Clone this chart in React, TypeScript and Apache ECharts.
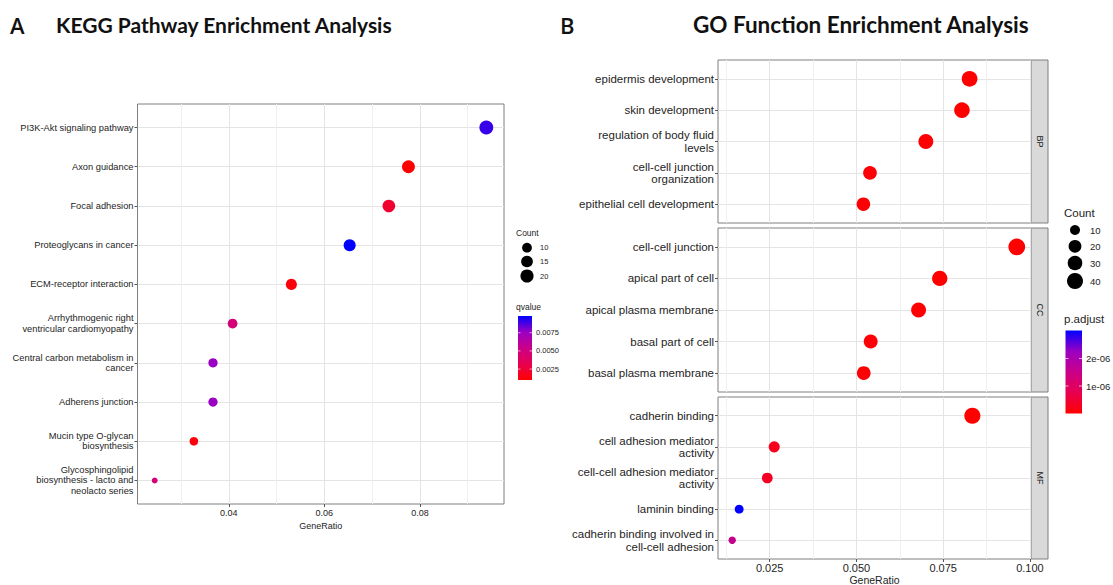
import { useEffect, useRef } from 'react';
import * as echarts from 'echarts';

// ---------- KEGG (panel A) ----------
const keggTerms = [
  'PI3K-Akt signaling pathway',
  'Axon guidance',
  'Focal adhesion',
  'Proteoglycans in cancer',
  'ECM-receptor interaction',
  'Arrhythmogenic right\nventricular cardiomyopathy',
  'Central carbon metabolism in\ncancer',
  'Adherens junction',
  'Mucin type O-glycan\nbiosynthesis',
  'Glycosphingolipid\nbiosynthesis - lacto and\nneolacto series',
];
const keggRatio = [0.0939, 0.0776, 0.0735, 0.0653, 0.0531, 0.0408, 0.0367, 0.0367, 0.0327, 0.0245];
const keggCount = [23, 19, 18, 16, 13, 10, 9, 9, 8, 6];
const keggQ = [0.009, 0.001, 0.0023, 0.0098, 0.0013, 0.0047, 0.0076, 0.0076, 0.0013, 0.0047];
const keggXTicks = [0.04, 0.06, 0.08];
const keggXMinor = [0.03, 0.05, 0.07, 0.09];
const keggCountLegend = [10, 15, 20];
const keggQTicks = [0.0025, 0.005, 0.0075];
const keggQRange = [0.001, 0.0098];

// ---------- GO (panel B) ----------
const bpTerms = [
  'epidermis development',
  'skin development',
  'regulation of body fluid\nlevels',
  'cell-cell junction\norganization',
  'epithelial cell development',
];
const bpRatio = [0.0826, 0.0804, 0.07, 0.0539, 0.052];
const bpCount = [38, 37, 32, 25, 24];
const bpPadj = [2.1e-9, 3.5e-9, 4.0e-8, 6.2e-8, 5.0e-8];

const ccTerms = [
  'cell-cell junction',
  'apical part of cell',
  'apical plasma membrane',
  'basal part of cell',
  'basal plasma membrane',
];
const ccRatio = [0.0962, 0.074, 0.0679, 0.0541, 0.0521];
const ccCount = [46, 35, 32, 26, 25];
const ccPadj = [1.2e-11, 3.0e-9, 1.5e-8, 4.5e-8, 6.0e-8];

const mfTerms = [
  'cadherin binding',
  'cell adhesion mediator\nactivity',
  'cell-cell adhesion mediator\nactivity',
  'laminin binding',
  'cadherin binding involved in\ncell-cell adhesion',
];
const mfRatio = [0.0834, 0.0263, 0.0243, 0.0162, 0.0142];
const mfCount = [41, 13, 12, 8, 7];
const mfPadj = [4.0e-9, 2.8e-7, 3.2e-7, 3.02e-6, 1.55e-6];

const goXTicks = [0.025, 0.05, 0.075, 0.1];
const goXMinor = [0.0125, 0.0375, 0.0625, 0.0875];
const goCountLegend = [10, 20, 30, 40];
const goPTicks = [1e-6, 2e-6];
const goPRange = [0, 3.02e-6];
const facetNames = ['BP', 'CC', 'MF'];

const gradientColors = ['#FF0000', '#E80050', '#CA0089', '#9A00C2', '#0000FF'];
const FONT = '"Liberation Sans", Arial, sans-serif';
const TXT = '#242424';

const kMin = Math.min(...keggCount);
const kMax = Math.max(...keggCount);
const allGoCounts = [...bpCount, ...ccCount, ...mfCount];
const gMin = Math.min(...allGoCounts);
const gMax = Math.max(...allGoCounts);
const keggSize = (c: number) => 5.9 + 8 * Math.sqrt(Math.max(0, c - kMin) / (kMax - kMin));
const goSize = (c: number) => 7.4 + 9.35 * Math.sqrt(Math.max(0, c - gMin) / (gMax - gMin));

const range = (n: number) => Array.from({ length: n }, (_, i) => i);

export default function App() {
  const ref = useRef<HTMLDivElement>(null);

  useEffect(() => {
    if (!ref.current) return;
    const chart = echarts.init(ref.current, null, { renderer: 'svg' });

    const L = { left: 137.5, top: 104, width: 366.5, height: 400 };
    const R = { left: 718, width: 313 };
    const facets = [
      { top: 60, height: 163 },
      { top: 228, height: 164 },
      { top: 397, height: 162 },
    ];
    const kXMin = 0.0209, kXMax = 0.0976;
    const gXMin = 0.0101, gXMax = 0.1003;

    const majorSplit = { show: true, lineStyle: { color: '#E4E4E4', width: 1 } };
    const minorSplit = { show: true, lineStyle: { color: '#F0F0F0', width: 1 } };
    const tickStyle = { color: '#555', width: 1 };
    const noLine = { show: false, onZero: false };

    const grids: any[] = [
      { ...L, show: true, borderColor: '#7f7f7f', borderWidth: 1, backgroundColor: '#fff', outerBoundsMode: 'none', containLabel: false },
      ...facets.map((f) => ({
        left: R.left, width: R.width, top: f.top, height: f.height,
        show: true, borderColor: '#7f7f7f', borderWidth: 1, backgroundColor: '#fff',
        outerBoundsMode: 'none', containLabel: false,
      })),
    ];

    const xAxes: any[] = [];
    const yAxes: any[] = [];

    xAxes.push({
      type: 'value', gridIndex: 0, min: kXMin, max: kXMax, position: 'bottom',
      axisLine: noLine,
      axisTick: { show: true, length: 3, lineStyle: tickStyle, customValues: keggXTicks },
      axisLabel: { customValues: keggXTicks, formatter: (v: number) => v.toFixed(2), fontSize: 9, color: TXT, fontFamily: FONT, margin: 4 },
      splitLine: majorSplit,
      name: 'GeneRatio', nameLocation: 'middle', nameGap: 17,
      nameTextStyle: { fontSize: 9, color: TXT, fontFamily: FONT },
    });
    facets.forEach((_, i) => {
      const last = i === facets.length - 1;
      xAxes.push({
        type: 'value', gridIndex: i + 1, min: gXMin, max: gXMax, position: 'bottom',
        axisLine: noLine,
        axisTick: { show: last, length: 3, lineStyle: tickStyle, customValues: goXTicks },
        axisLabel: { show: last, customValues: goXTicks, formatter: (v: number) => v.toFixed(3), fontSize: 11, color: TXT, fontFamily: FONT, margin: 3 },
        splitLine: majorSplit,
        name: last ? 'GeneRatio' : '', nameLocation: 'middle', nameGap: 15.5,
        nameTextStyle: { fontSize: 10.5, color: TXT, fontFamily: FONT },
      });
    });
    xAxes.push({
      type: 'value', gridIndex: 0, min: kXMin, max: kXMax, position: 'top',
      axisLine: noLine, axisLabel: { show: false },
      axisTick: { show: false, customValues: keggXMinor },
      splitLine: minorSplit,
    });
    facets.forEach((_, i) => {
      xAxes.push({
        type: 'value', gridIndex: i + 1, min: gXMin, max: gXMax, position: 'top',
        axisLine: noLine, axisLabel: { show: false },
        axisTick: { show: false, customValues: goXMinor },
        splitLine: minorSplit,
      });
    });

    const kIdx = range(keggTerms.length);
    yAxes.push({
      type: 'value', gridIndex: 0, min: -0.6, max: keggTerms.length - 1 + 0.6, inverse: true,
      axisLine: noLine,
      axisTick: { show: true, length: 3, lineStyle: tickStyle, customValues: kIdx },
      axisLabel: {
        customValues: kIdx, formatter: (v: number) => keggTerms[Math.round(v)] ?? '',
        fontSize: 9.3, lineHeight: 10.3, color: TXT, fontFamily: FONT, margin: 4, align: 'right',
      },
      splitLine: majorSplit,
    });
    const goTermSets = [bpTerms, ccTerms, mfTerms];
    goTermSets.forEach((terms, i) => {
      const idx = range(terms.length);
      yAxes.push({
        type: 'value', gridIndex: i + 1, min: -0.6, max: terms.length - 1 + 0.6, inverse: true,
        axisLine: noLine,
        axisTick: { show: true, length: 3, lineStyle: tickStyle, customValues: idx },
        axisLabel: {
          customValues: idx, formatter: (v: number) => terms[Math.round(v)] ?? '',
          fontSize: 11.5, lineHeight: 12.5, color: TXT, fontFamily: FONT, margin: 4, align: 'right',
        },
        splitLine: majorSplit,
      });
    });

    const keggData = keggTerms.map((_, i) => [keggRatio[i], i, keggCount[i], keggQ[i]]);
    const goSets = [
      { ratio: bpRatio, count: bpCount, p: bpPadj },
      { ratio: ccRatio, count: ccCount, p: ccPadj },
      { ratio: mfRatio, count: mfCount, p: mfPadj },
    ];

    const series: any[] = [
      {
        type: 'scatter', xAxisIndex: 0, yAxisIndex: 0, data: keggData,
        symbolSize: (v: number[]) => keggSize(v[2]),
        itemStyle: { opacity: 1 }, silent: true, z: 5,
      },
      ...goSets.map((s, i) => ({
        type: 'scatter', xAxisIndex: i + 1, yAxisIndex: i + 1,
        data: s.ratio.map((r, j) => [r, j, s.count[j], s.p[j]]),
        symbolSize: (v: number[]) => goSize(v[2]),
        itemStyle: { opacity: 1 }, silent: true, z: 5,
      })),
    ];

    const g: any[] = [];
    const titleStyle = { fontFamily: 'Lato, "Open Sans", sans-serif', fontWeight: 700, fill: '#111', verticalAlign: 'middle' };
    g.push({ type: 'text', x: 10, y: 25, style: { ...titleStyle, text: 'A', fontSize: 22, fontWeight: 600, fontFamily: '"Open Sans", sans-serif' } });
    g.push({ type: 'text', x: 56, y: 24, style: { ...titleStyle, text: 'KEGG Pathway Enrichment Analysis', fontSize: 21 } });
    g.push({ type: 'text', x: 560, y: 25, style: { ...titleStyle, text: 'B', fontSize: 22, fontWeight: 600, fontFamily: '"Open Sans", sans-serif' } });
    g.push({ type: 'text', x: 693, y: 24, style: { ...titleStyle, text: 'GO Function Enrichment Analysis', fontSize: 22.5 } });

    facets.forEach((f, i) => {
      g.push({ type: 'rect', shape: { x: R.left + R.width, y: f.top, width: 17, height: f.height }, style: { fill: '#D9D9D9', stroke: '#7f7f7f', lineWidth: 1 } });
      g.push({
        type: 'text', x: R.left + R.width + 8.5, y: f.top + f.height / 2, rotation: -Math.PI / 2,
        style: { text: facetNames[i], fontSize: 9, fontFamily: FONT, fill: '#1a1a1a', align: 'center', verticalAlign: 'middle' },
      });
    });

    const gradFill = {
      type: 'linear', x: 0, y: 1, x2: 0, y2: 0,
      colorStops: gradientColors.map((c, i) => ({ offset: i / (gradientColors.length - 1), color: c })),
    };

    // left legend
    g.push({ type: 'text', x: 516, y: 233, style: { text: 'Count', fontSize: 8.5, fontFamily: FONT, fill: TXT, verticalAlign: 'middle' } });
    const kLegY = [247.7, 261.5, 276];
    keggCountLegend.forEach((c, i) => {
      g.push({ type: 'circle', shape: { cx: 527, cy: kLegY[i], r: keggSize(c) / 2 }, style: { fill: '#000' } });
      g.push({ type: 'text', x: 540, y: kLegY[i], style: { text: String(c), fontSize: 7.5, fontFamily: FONT, fill: TXT, verticalAlign: 'middle' } });
    });
    g.push({ type: 'text', x: 516, y: 307, style: { text: 'qvalue', fontSize: 8.5, fontFamily: FONT, fill: TXT, verticalAlign: 'middle' } });
    const kBar = { x: 518, y: 316, w: 14, h: 64 };
    g.push({ type: 'rect', shape: { x: kBar.x, y: kBar.y, width: kBar.w, height: kBar.h }, style: { fill: gradFill } });
    keggQTicks.forEach((v) => {
      const yy = kBar.y + kBar.h - ((v - keggQRange[0]) / (keggQRange[1] - keggQRange[0])) * kBar.h;
      g.push({ type: 'line', shape: { x1: kBar.x, y1: yy, x2: kBar.x + 2.5, y2: yy }, style: { stroke: '#fff', lineWidth: 0.6 } });
      g.push({ type: 'line', shape: { x1: kBar.x + kBar.w - 2.5, y1: yy, x2: kBar.x + kBar.w, y2: yy }, style: { stroke: '#fff', lineWidth: 0.6 } });
      g.push({ type: 'text', x: 536, y: yy, style: { text: v.toFixed(4), fontSize: 7.5, fontFamily: FONT, fill: TXT, verticalAlign: 'middle' } });
    });

    // right legend
    g.push({ type: 'text', x: 1064, y: 213, style: { text: 'Count', fontSize: 11.5, fontFamily: FONT, fill: TXT, verticalAlign: 'middle' } });
    const gLegY = [230, 246.3, 263, 281];
    goCountLegend.forEach((c, i) => {
      g.push({ type: 'circle', shape: { cx: 1075, cy: gLegY[i], r: goSize(c) / 2 }, style: { fill: '#000' } });
      g.push({ type: 'text', x: 1090, y: gLegY[i], style: { text: String(c), fontSize: 9.5, fontFamily: FONT, fill: TXT, verticalAlign: 'middle' } });
    });
    g.push({ type: 'text', x: 1064, y: 319, style: { text: 'p.adjust', fontSize: 11.5, fontFamily: FONT, fill: TXT, verticalAlign: 'middle' } });
    const gBar = { x: 1065.5, y: 330.5, w: 16.5, h: 83 };
    g.push({ type: 'rect', shape: { x: gBar.x, y: gBar.y, width: gBar.w, height: gBar.h }, style: { fill: gradFill } });
    goPTicks.forEach((v) => {
      const yy = gBar.y + gBar.h - ((v - goPRange[0]) / (goPRange[1] - goPRange[0])) * gBar.h;
      g.push({ type: 'line', shape: { x1: gBar.x, y1: yy, x2: gBar.x + 3, y2: yy }, style: { stroke: '#fff', lineWidth: 0.7 } });
      g.push({ type: 'line', shape: { x1: gBar.x + gBar.w - 3, y1: yy, x2: gBar.x + gBar.w, y2: yy }, style: { stroke: '#fff', lineWidth: 0.7 } });
      g.push({ type: 'text', x: 1086, y: yy, style: { text: v.toExponential(0).replace('e-', 'e-0'), fontSize: 9.5, fontFamily: FONT, fill: TXT, verticalAlign: 'middle' } });
    });

    chart.setOption({
      animation: false,
      backgroundColor: '#fff',
      textStyle: { fontFamily: FONT },
      grid: grids,
      xAxis: xAxes,
      yAxis: yAxes,
      visualMap: [
        { type: 'continuous', show: false, seriesIndex: [0], dimension: 3, min: keggQRange[0], max: keggQRange[1], inRange: { color: gradientColors } },
        { type: 'continuous', show: false, seriesIndex: [1, 2, 3], dimension: 3, min: goPRange[0], max: goPRange[1], inRange: { color: gradientColors } },
      ],
      series,
      graphic: g,
    });

    return () => chart.dispose();
  }, []);

  return <div ref={ref} style={{ position: 'absolute', left: 0, top: 0, width: 1113, height: 585 }} />;
}
